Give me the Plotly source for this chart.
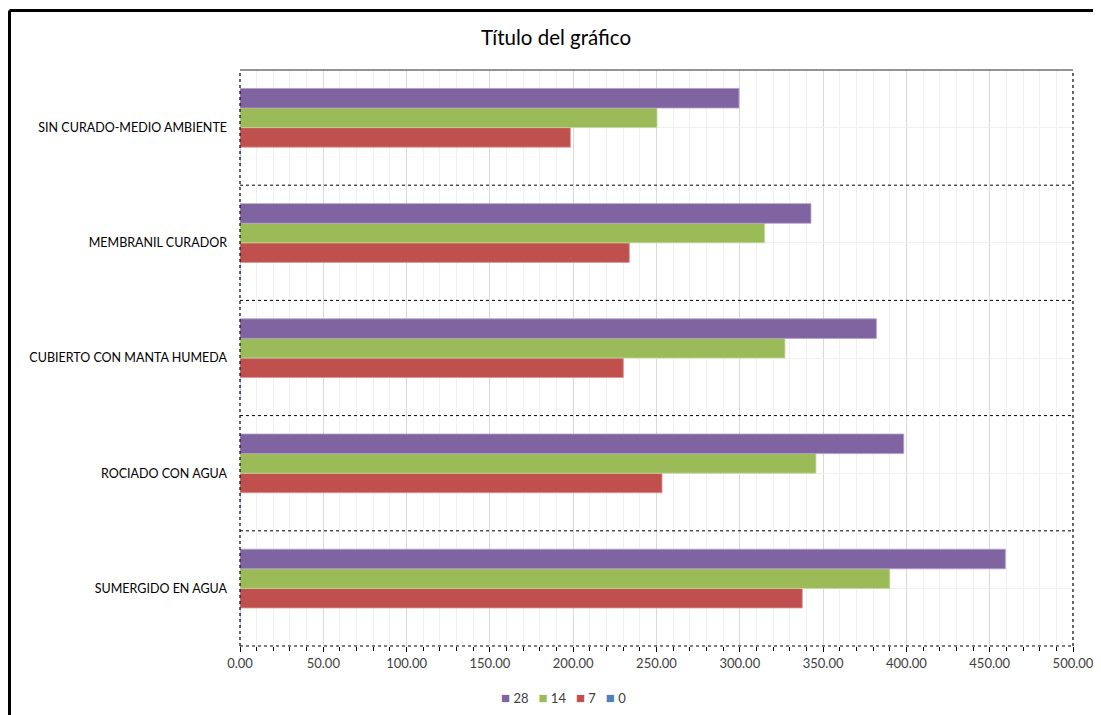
import plotly.graph_objects as go

categories = ["SUMERGIDO EN AGUA", "ROCIADO CON AGUA", "CUBIERTO CON MANTA HUMEDA",
              "MEMBRANIL CURADOR", "SIN CURADO-MEDIO AMBIENTE"]
series_names = ["0", "7", "14", "28"]
d0 = [0, 0, 0, 0, 0]
d7 = [337.5, 253.3, 230.1, 233.7, 198.3]
d14 = [390.0, 345.7, 327.1, 314.9, 250.3]
d28 = [459.4, 398.4, 382.0, 342.7, 299.5]
colors = ["#4F81BD", "#C0504D", "#9BBB59", "#8064A2"]
edge = ["#95B3D7", "#DA9694", "#C4D79B", "#B1A0C7"]

FONT = "Lato"
W, H = 1093, 707
L, T, PW, PH = 232, 62, 833, 576

fig = go.Figure()
for name, vals, c, e in zip(series_names, [d0, d7, d14, d28], colors, edge):
    fig.add_trace(go.Bar(y=categories, x=vals, name=name, orientation="h",
                         marker=dict(color=c, line=dict(color=e, width=0.8))))

shapes = []
for b in [0.5, 1.5, 2.5, 3.5]:
    shapes.append(dict(type="line", xref="paper", yref="y", x0=0, x1=1, y0=b, y1=b,
                       line=dict(color="#000000", width=1, dash="dot"), layer="above"))
shapes += [
    dict(type="line", xref="paper", yref="paper", x0=0, x1=1, y0=0, y1=0,
         line=dict(color="#000000", width=1.2, dash="dot"), layer="above"),
    dict(type="line", xref="paper", yref="paper", x0=0, x1=0, y0=0, y1=1,
         line=dict(color="#000000", width=1.2, dash="dot"), layer="above"),
    dict(type="line", xref="paper", yref="paper", x0=1, x1=1, y0=0, y1=1,
         line=dict(color="#000000", width=1.2, dash="dot"), layer="above"),
    dict(type="line", xref="paper", yref="paper", x0=0, x1=1, y0=1, y1=1,
         line=dict(color="#707070", width=1.5), layer="above"),
]
# outer chart frame (top and left edges visible)
fx = (1.5 - L) / PW
fy = 1 + (T - 2.5) / PH
shapes += [
    dict(type="line", xref="paper", yref="paper", x0=fx, x1=1.2, y0=fy, y1=fy,
         line=dict(color="#000000", width=3)),
    dict(type="line", xref="paper", yref="paper", x0=fx, x1=fx, y0=fy, y1=-0.3,
         line=dict(color="#000000", width=3)),
]

# legend-like key in Excel order (reversed series)
legend_text = "&nbsp;&nbsp;&nbsp;".join(
    f"<span style='color:{c};font-size:15px'>■</span>&nbsp;{n}"
    for n, c in zip(series_names[::-1], colors[::-1]))

fig.update_layout(
    width=W, height=H,
    margin=dict(l=L, r=W - L - PW, t=T, b=H - T - PH, autoexpand=False),
    paper_bgcolor="white", plot_bgcolor="white",
    barmode="group", bargap=0.32, bargroupgap=0,
    font=dict(family=FONT, color="#404040", size=12),
    title=dict(text="Título del gráfico", x=(556 - 8) / W, xref="container", xanchor="center",
               y=1 - 30 / H, yref="container", yanchor="middle",
               font=dict(family=FONT, size=20.5, color="#000000")),
    showlegend=False,
    annotations=[dict(text=legend_text, xref="paper", yref="paper",
                      x=(555 - L) / PW, y=-(689 - T - PH) / PH, xanchor="center",
                      yanchor="middle", showarrow=False,
                      font=dict(family=FONT, size=13, color="#404040"))],
    shapes=shapes,
)
fig.update_xaxes(range=[0, 500], dtick=50, tick0=0, tickformat=".2f",
                 automargin=False,
                 showgrid=True, gridcolor="#d9d9d9", gridwidth=1,
                 minor=dict(dtick=10, showgrid=True, gridcolor="#f0f0f0",
                            ticks="outside", ticklen=4, tickcolor="#000000"),
                 ticks="outside", ticklen=5, tickcolor="#000000",
                 showline=False, zeroline=False,
                 tickfont=dict(family=FONT, size=13, color="#404040"))
fig.update_yaxes(type="category", categoryorder="array", categoryarray=categories,
                 automargin=False,
                 range=[-0.5, 4.5], showgrid=True, gridcolor="#f0f0f0",
                 showline=False, zeroline=False, ticks="", ticklabelstandoff=12,
                 tickfont=dict(family=FONT, size=12.5, color="#000000"))

fig.write_html("out.html")
